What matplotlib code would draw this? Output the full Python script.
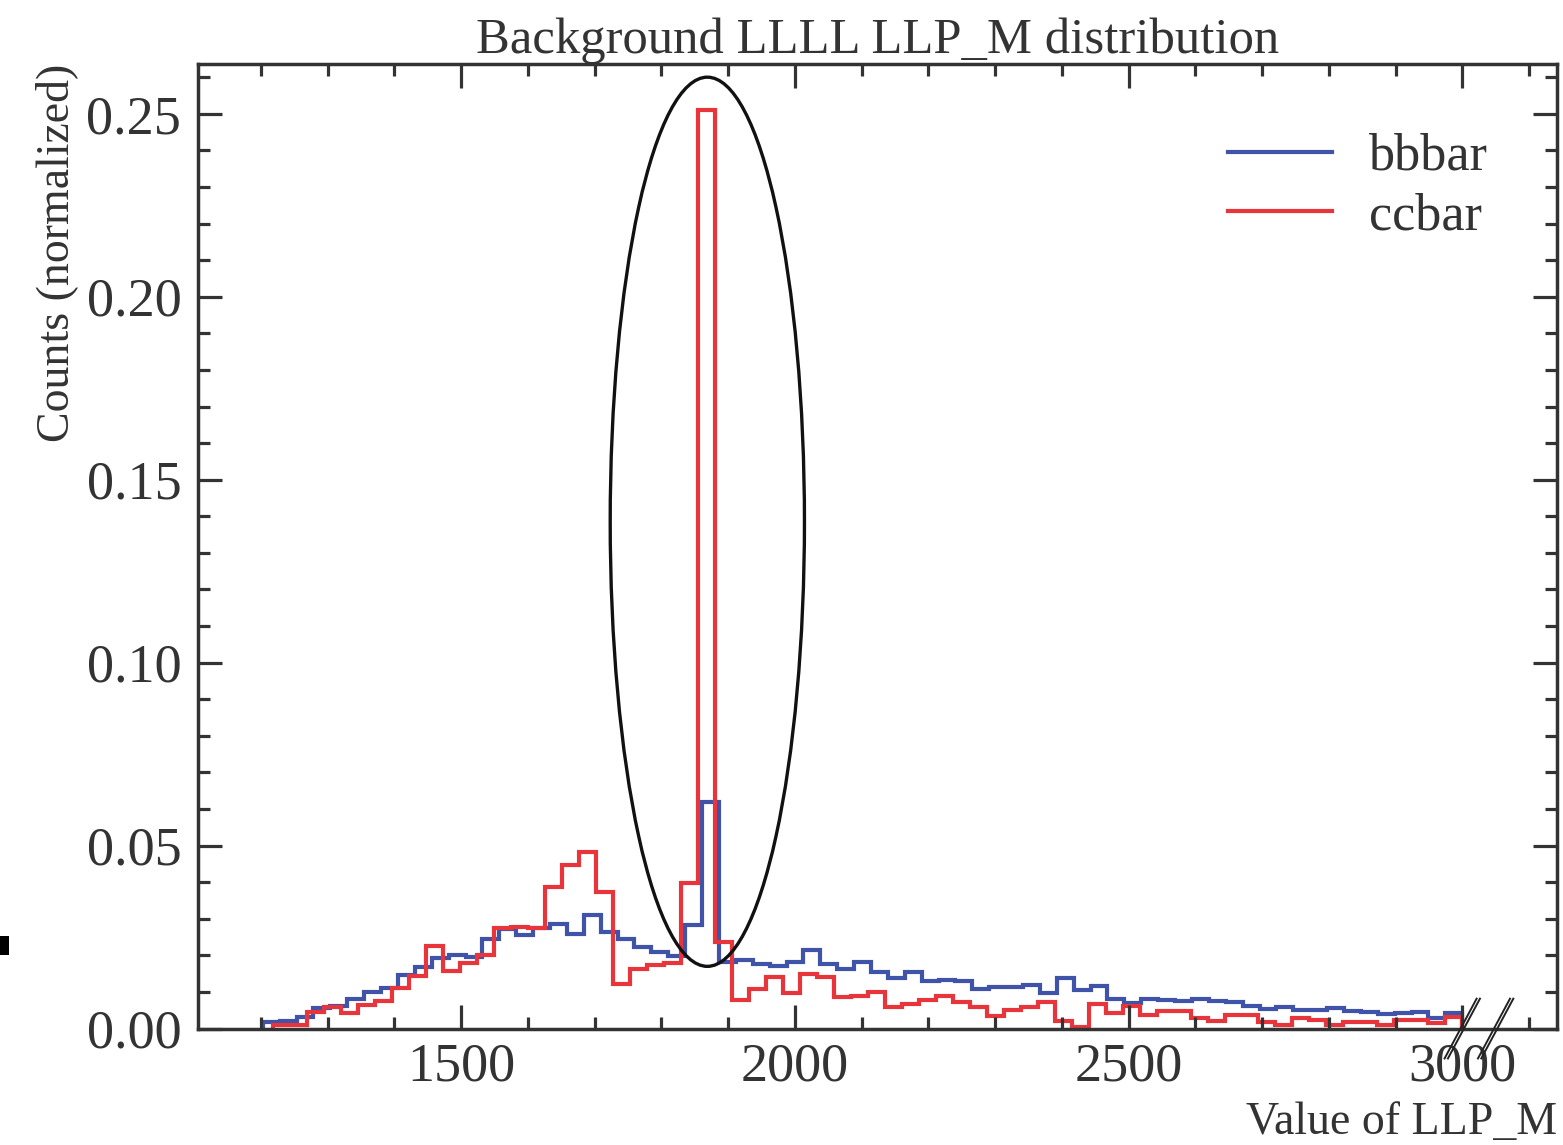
import numpy as np
import matplotlib
matplotlib.use('Agg')
import matplotlib.pyplot as plt
from matplotlib.patches import Ellipse, Rectangle
import matplotlib.transforms as mtransforms
from matplotlib.ticker import MultipleLocator

# === Dados ===
bbbar_range = (1203, 3000)
bbbar_nbins = 71
bbbar_counts = [
    0.0018, 0.0022, 0.0032, 0.0055, 0.0062, 0.0082, 0.0100, 0.0111, 0.0146, 0.0167,
    0.0192, 0.0201, 0.0195, 0.0246, 0.0271, 0.0255, 0.0274, 0.0286, 0.0258, 0.0310,
    0.0264, 0.0244, 0.0224, 0.0208, 0.0199, 0.0283, 0.0620, 0.0181, 0.0187, 0.0176,
    0.0171, 0.0181, 0.0214, 0.0176, 0.0164, 0.0181, 0.0155, 0.0137, 0.0154, 0.0131,
    0.0134, 0.0131, 0.0107, 0.0114, 0.0114, 0.0119, 0.0098, 0.0138, 0.0105, 0.0116,
    0.0082, 0.0071, 0.0080, 0.0078, 0.0076, 0.0080, 0.0076, 0.0073, 0.0061, 0.0054,
    0.0060, 0.0051, 0.0051, 0.0055, 0.0049, 0.0046, 0.0040, 0.0042, 0.0044, 0.0030,
    0.0042,
]

ccbar_range = (1219, 3000)
ccbar_nbins = 70
ccbar_counts = [
    0.0010, 0.0011, 0.0046, 0.0060, 0.0043, 0.0064, 0.0075, 0.0111, 0.0143, 0.0225,
    0.0156, 0.0180, 0.0201, 0.0274, 0.0278, 0.0274, 0.0387, 0.0447, 0.0483, 0.0374,
    0.0123, 0.0164, 0.0173, 0.0180, 0.0397, 0.2510, 0.0236, 0.0078, 0.0107, 0.0142,
    0.0096, 0.0148, 0.0142, 0.0087, 0.0088, 0.0101, 0.0060, 0.0067, 0.0078, 0.0089,
    0.0073, 0.0060, 0.0034, 0.0051, 0.0060, 0.0073, 0.0022, 0.0005, 0.0066, 0.0043,
    0.0061, 0.0037, 0.0048, 0.0048, 0.0028, 0.0020, 0.0037, 0.0037, 0.0019, 0.0010,
    0.0030, 0.0023, 0.0010, 0.0019, 0.0019, 0.0011, 0.0023, 0.0023, 0.0014, 0.0032,
]

# elipse de destaque (centro x, centro y, largura, altura)
ellipse_center = (1869, 0.1385)
ellipse_size = (291, 0.243)

# marcas de quebra do eixo x
break_x = [3000, 3050]

# === Estilo ===
plt.rcParams['font.family'] = ['Liberation Serif', 'DejaVu Serif']
plt.rcParams['text.color'] = '#333333'
plt.rcParams['axes.labelcolor'] = '#333333'
plt.rcParams['xtick.color'] = '#333333'
plt.rcParams['ytick.color'] = '#333333'
plt.rcParams['axes.edgecolor'] = '#333333'

fig = plt.figure(figsize=(15.63, 11.45), dpi=100)
ax = fig.add_axes([0.1267, 0.1017, 0.8695, 0.8424])

blue = '#3f54a8'
red = '#e8353b'

ax.stairs(bbbar_counts, np.linspace(*bbbar_range, bbbar_nbins + 1),
          color=blue, lw=3.0, label='bbbar', baseline=0)
ax.stairs(ccbar_counts, np.linspace(*ccbar_range, ccbar_nbins + 1),
          color=red, lw=3.0, label='ccbar', baseline=0)

ax.add_patch(Ellipse(ellipse_center, ellipse_size[0], ellipse_size[1],
                     fill=False, edgecolor='#111111', lw=2.4))

ax.set_xlim(1106, 3142)
ax.set_ylim(0, 0.2636)

ax.xaxis.set_major_locator(MultipleLocator(500))
ax.xaxis.set_minor_locator(MultipleLocator(100))
ax.yaxis.set_major_locator(MultipleLocator(0.05))
ax.yaxis.set_minor_locator(MultipleLocator(0.01))
ax.yaxis.set_major_formatter(matplotlib.ticker.FormatStrFormatter('%.2f'))

ax.tick_params(which='both', direction='in', top=True, right=True, width=2.3)
ax.tick_params(which='major', length=17, labelsize=39)
ax.tick_params(which='minor', length=8.5)
ax.tick_params(axis='x', which='major', pad=10)
ax.tick_params(axis='y', which='major', pad=12)
for s in ax.spines.values():
    s.set_linewidth(2.5)

ax.set_title('Background LLLL LLP_M distribution', fontsize=36.5, pad=3)
ax.set_xlabel('Value of LLP_M', fontsize=33, loc='right', labelpad=6)
ax.set_ylabel('Counts (normalized)', fontsize=33, loc='top', labelpad=6)

leg = ax.legend(loc='upper right', fontsize=37.5, frameon=False,
                handlelength=2.0, handletextpad=0.71, borderaxespad=0.92,
                labelspacing=0.22)

# === Marcas de quebra (//) ===
trans = mtransforms.blended_transform_factory(ax.transData, ax.transAxes)
for bx in break_x:
    for off in (-2.5, 2.5):
        ax.plot([bx - 24 + off, bx + 24 + off], [-0.031, 0.031], transform=trans,
                color='#222222', lw=1.4, clip_on=False, zorder=5)

# pequeno marcador preto na borda esquerda
fig.patches.append(Rectangle((0, 0.166), 9 / 1563, 19 / 1145, transform=fig.transFigure,
                             facecolor='black', edgecolor='none'))

fig.savefig('out.png', dpi=100)
